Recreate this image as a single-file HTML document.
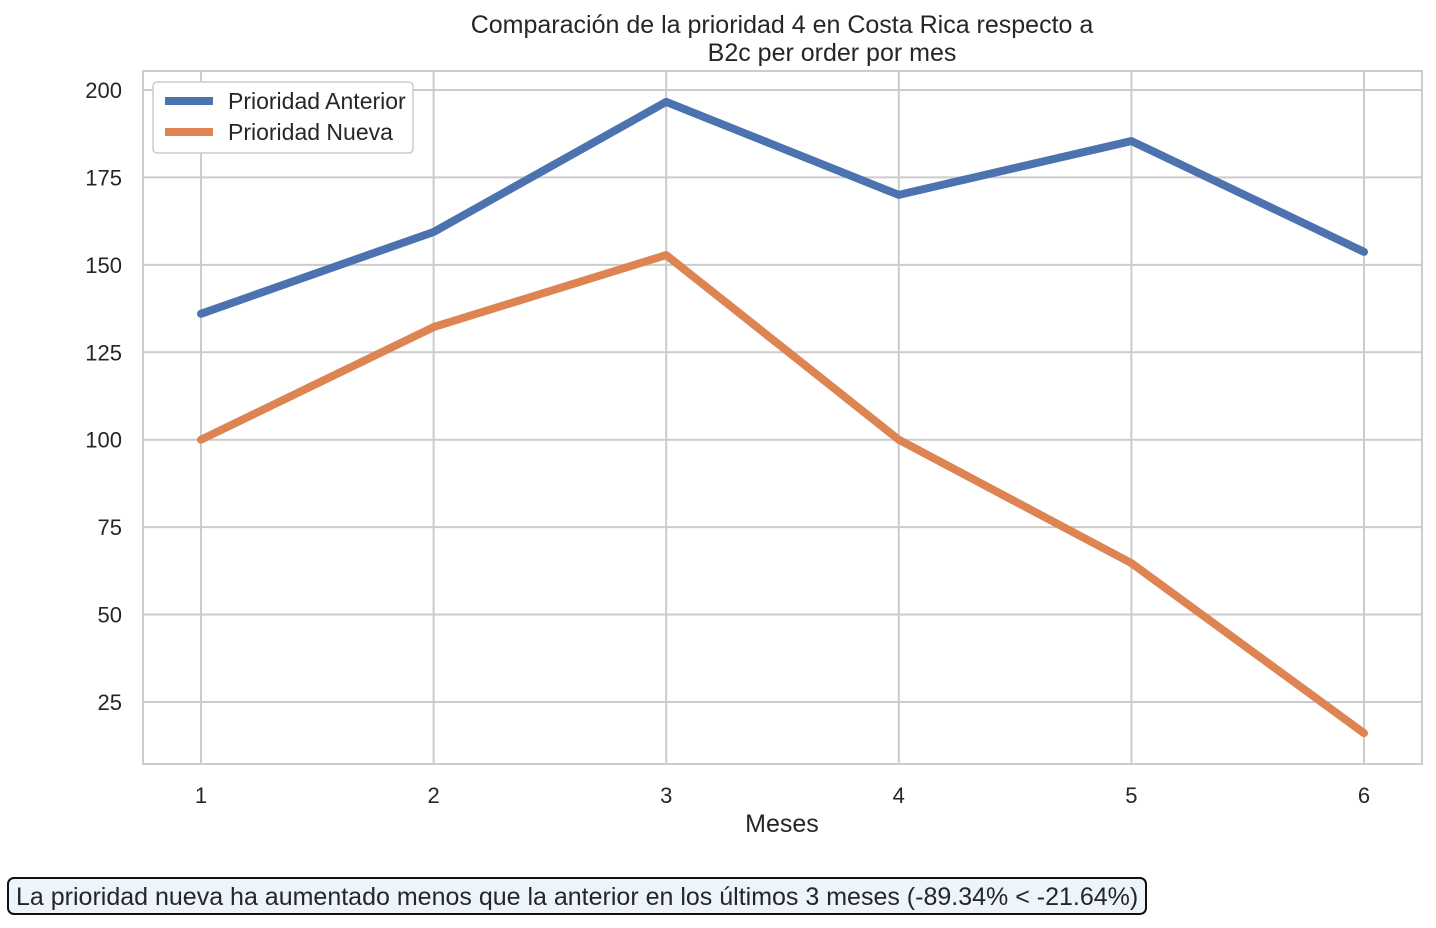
<!DOCTYPE html>
<html><head><meta charset="utf-8"><style>
body{margin:0;background:#fff;font-family:"Liberation Sans",sans-serif;}
svg text{font-family:"Liberation Sans",sans-serif;fill:#262626;}
</style></head><body>
<svg width="1436" height="923">
<g id="grid"></g>
<rect x="143" y="71" width="1279" height="693" fill="none" stroke="#cccccc" stroke-width="2"/>
<g id="series"></g>
<g id="ticks"></g>
<text x="782" y="33" font-size="25" text-anchor="middle">Comparación de la prioridad 4 en Costa Rica respecto a</text>
<text x="832" y="61" font-size="25" text-anchor="middle">B2c per order por mes</text>
<text x="782" y="832" font-size="25" text-anchor="middle">Meses</text>
<g>
<rect x="153" y="82" width="260" height="71" rx="4" fill="#fff" stroke="#cccccc" stroke-width="1.5"/>
<line x1="165" y1="101" x2="213" y2="101" stroke="#4c72b0" stroke-width="8"/>
<text x="228" y="109" font-size="23">Prioridad Anterior</text>
<line x1="165" y1="132" x2="213" y2="132" stroke="#dd8452" stroke-width="8"/>
<text x="228" y="140" font-size="23">Prioridad Nueva</text>
</g>
<g>
<rect x="8" y="878" width="1138" height="36" rx="6" fill="#eef4fb" stroke="#111" stroke-width="2"/>
<text x="16" y="905" font-size="25">La prioridad nueva ha aumentado menos que la anterior en los últimos 3 meses (-89.34% &lt; -21.64%)</text>
</g>
</svg>
<script>
const months=[1,2,3,4,5,6];
const anterior=[136,159.4,196.6,170,185.4,153.7];
const nueva=[100,132.2,152.8,100,64.7,16.1];
const yTicks=[25,50,75,100,125,150,175,200];
const NS="http://www.w3.org/2000/svg";
function xs(m){return 201+(m-1)*232.6;}
function ys(v){return 90+(200-v)*3.497;}
function mk(tag,attrs,parent){const e=document.createElementNS(NS,tag);for(const k in attrs)e.setAttribute(k,attrs[k]);document.getElementById(parent).appendChild(e);return e;}
yTicks.forEach(t=>{
 const l=mk('line',{x1:143,x2:1422,y1:ys(t),y2:ys(t),stroke:'#cccccc','stroke-width':2},'grid');
 
 
 const tx=mk('text',{x:122,y:ys(t)+8,'font-size':22,'text-anchor':'end'},'ticks');
 tx.textContent=t;
 
 
});
months.forEach(m=>{
 const l=mk('line',{x1:xs(m),x2:xs(m),y1:71,y2:764,stroke:'#cccccc','stroke-width':2},'grid');
 
 
 const tx=mk('text',{x:xs(m),y:803,'font-size':22,'text-anchor':'middle'},'ticks');
 tx.textContent=m;
 
 
});
function line(vals,color,name){
 const p=mk('polyline',{points:vals.map((v,i)=>xs(months[i])+','+ys(v)).join(' '),fill:'none',stroke:color,'stroke-width':8,'stroke-linecap':'round','stroke-linejoin':'round'},'series');
 
 
}
line(anterior,'#4c72b0','line-prioridad-anterior');
line(nueva,'#dd8452','line-prioridad-nueva');
</script>
</body></html>
